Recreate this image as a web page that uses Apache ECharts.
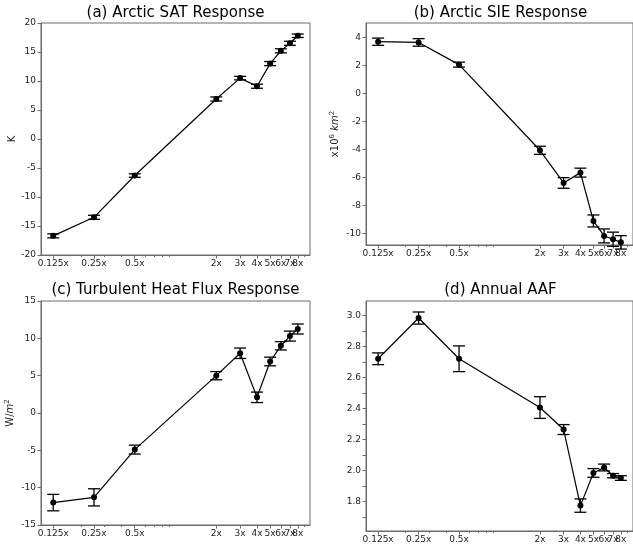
<!DOCTYPE html>
<html>
<head>
<meta charset="utf-8">
<script src="https://cdn.jsdelivr.net/npm/echarts@6/dist/echarts.min.js"></script>
<style>
html,body{margin:0;padding:0;background:#fff;}
#chart{width:633px;height:546px;}
</style>
</head>
<body>
<div id="chart"></div>
<script>
// ---- data ----
const multipliers = [0.125, 0.25, 0.5, 2, 3, 4, 5, 6, 7, 8];
const xTickValues = [0.125, 0.25, 0.5, 2, 3, 4, 5, 6, 7, 8];
const xLabelsMain = [0.125, 0.25, 0.5, 2, 3, 4, 5, 6, 8];
const xLabelsExtra = [7];
const xMinorTicks = [0.2, 0.3, 0.4, 0.6, 0.7, 0.8, 0.9, 9];

const satMean = [-16.7, -13.5, -6.3, 6.9, 10.5, 9.1, 13.0, 15.2, 16.5, 17.8];
const satErr  = [0.35, 0.35, 0.3, 0.35, 0.3, 0.35, 0.35, 0.35, 0.35, 0.3];

const sieMean = [3.71, 3.66, 2.07, -4.06, -6.40, -5.66, -9.12, -10.19, -10.43, -10.65];
const sieErr  = [0.26, 0.27, 0.18, 0.29, 0.38, 0.32, 0.43, 0.50, 0.51, 0.48];

const thfMean = [-12.0, -11.3, -4.9, 5.0, 8.0, 2.1, 6.9, 9.0, 10.3, 11.25];
const thfErr  = [1.1, 1.15, 0.6, 0.55, 0.7, 0.7, 0.58, 0.56, 0.67, 0.67];

const aafMean = [2.722, 2.985, 2.722, 2.407, 2.265, 1.774, 1.985, 2.020, 1.967, 1.952];
const aafErr  = [0.038, 0.039, 0.083, 0.07, 0.032, 0.043, 0.028, 0.022, 0.014, 0.015];

const sieYTicks = [-10, -8, -6, -4, -2, 0, 2, 4];
const aafYLabels = [1.8, 2.0, 2.2, 2.4, 2.6, 2.8, 3.0];
const aafYTicks = [1.7, 1.8, 1.9, 2.0, 2.1, 2.2, 2.3, 2.4, 2.5, 2.6, 2.7, 2.8, 2.9, 3.0];

const titles = ['(a) Arctic SAT Response', '(b) Arctic SIE Response', '(c) Turbulent Heat Flux Response', '(d) Annual AAF'];

// ---- layout ----
const FONT = 'DejaVu Sans';
const SPINE = '#6b6b6b';
const TXT = '#222';
const xMin = 0.125 * Math.pow(2, -0.3);
const xMax = 8 * Math.pow(2, 0.3);

const grids = [
  {left: 41, top: 23, width: 269, height: 232},
  {left: 366, top: 23, width: 269, height: 222},
  {left: 41, top: 301, width: 269, height: 224},
  {left: 366, top: 301, width: 269, height: 230}
];

const chart = echarts.init(document.getElementById('chart'), null, {renderer: 'canvas'});

const option = {
  backgroundColor: '#fff',
  animation: false,
  title: titles.map((t, i) => ({
    text: t,
    left: grids[i].left + grids[i].width / 2,
    top: i < 2 ? 6 : 283,
    textAlign: 'center',
    padding: 0,
    textStyle: {fontFamily: FONT, fontSize: 15, fontWeight: 'normal', color: '#000'}
  })),
  grid: grids.map(g => Object.assign({show: true, borderColor: SPINE, borderWidth: 1, backgroundColor: 'transparent', containLabel: false}, g)),
  xAxis: [],
  yAxis: [],
  series: []
};

const xLabelStyle = {margin: 4, fontFamily: FONT, fontSize: 9, color: TXT, hideOverlap: false, formatter: v => v + 'x'};

for (let i = 0; i < 4; i++) {
  option.xAxis.push({
    type: 'log', logBase: 2, gridIndex: i, min: xMin, max: xMax, position: 'bottom',
    axisLine: {show: true, onZero: false, lineStyle: {color: SPINE, width: 1}},
    axisTick: {show: true, length: 3.5, lineStyle: {color: SPINE}, customValues: xTickValues},
    axisLabel: Object.assign({show: true, customValues: xLabelsMain}, xLabelStyle),
    splitLine: {show: false}, minorTick: {show: false}, minorSplitLine: {show: false}
  });
}
for (let i = 0; i < 4; i++) {
  option.xAxis.push({
    type: 'log', logBase: 2, gridIndex: i, min: xMin, max: xMax, position: 'bottom',
    axisLine: {show: false, onZero: false},
    axisTick: {show: true, length: 2, lineStyle: {color: SPINE}, customValues: xMinorTicks},
    axisLabel: Object.assign({show: true, customValues: xLabelsExtra}, xLabelStyle),
    splitLine: {show: false}
  });
}

const yBase = (i) => ({
  type: 'value', gridIndex: i, position: 'left',
  axisLine: {show: true, onZero: false, lineStyle: {color: SPINE, width: 1}},
  axisTick: {show: true, length: 3.5, lineStyle: {color: SPINE}},
  axisLabel: {show: true, margin: 5, fontFamily: FONT, fontSize: 9, color: TXT},
  splitLine: {show: false},
  nameLocation: 'middle', nameRotate: 90,
  nameTextStyle: {fontFamily: FONT, fontSize: 10, color: TXT}
});

option.yAxis.push(Object.assign(yBase(0), {min: -20, max: 20, interval: 5, name: 'K', nameGap: 24}));
const yb = yBase(1);
yb.min = -10.84; yb.max = 5.05;
yb.axisTick.customValues = sieYTicks;
yb.axisLabel.customValues = sieYTicks;
yb.name = '{n|x10}{s|6}{n| }{i|km}{s|2}';
yb.nameGap = 24;
yb.nameTextStyle.rich = {
  n: {fontFamily: FONT, fontSize: 10, color: TXT},
  i: {fontFamily: FONT, fontSize: 10, fontStyle: 'italic', color: TXT},
  s: {fontFamily: FONT, fontSize: 7, color: TXT, padding: [0, 0, 6, 0]}
};
option.yAxis.push(yb);
const yc = yBase(2);
yc.min = -15; yc.max = 15; yc.interval = 5;
yc.name = '{n|W/}{i|m}{s|2}';
yc.nameGap = 24;
yc.nameTextStyle.rich = yb.nameTextStyle.rich;
option.yAxis.push(yc);
const yd = yBase(3);
yd.min = 1.61; yd.max = 3.095;
yd.axisTick.customValues = aafYTicks;
yd.axisLabel.customValues = aafYLabels;
yd.axisLabel.formatter = v => v.toFixed(1);
option.yAxis.push(yd);

const means = [satMean, sieMean, thfMean, aafMean];
const errs = [satErr, sieErr, thfErr, aafErr];

function errorRender(params, api) {
  const x = api.value(0);
  const lo = api.coord([x, api.value(1)]);
  const hi = api.coord([x, api.value(2)]);
  const cap = 6;
  const style = {stroke: '#000', lineWidth: 1.3, fill: null};
  return {
    type: 'group',
    children: [
      {type: 'line', shape: {x1: lo[0], y1: lo[1], x2: hi[0], y2: hi[1]}, style: style},
      {type: 'line', shape: {x1: lo[0] - cap, y1: lo[1], x2: lo[0] + cap, y2: lo[1]}, style: style},
      {type: 'line', shape: {x1: hi[0] - cap, y1: hi[1], x2: hi[0] + cap, y2: hi[1]}, style: style}
    ]
  };
}

for (let i = 0; i < 4; i++) {
  option.series.push({
    type: 'custom', xAxisIndex: i, yAxisIndex: i,
    renderItem: errorRender,
    encode: {x: 0, y: [1, 2]},
    data: multipliers.map((m, k) => [m, means[i][k] - errs[i][k], means[i][k] + errs[i][k]]),
    z: 3, silent: true
  });
  option.series.push({
    type: 'line', xAxisIndex: i, yAxisIndex: i,
    data: multipliers.map((m, k) => [m, means[i][k]]),
    symbol: 'circle', symbolSize: 6, showSymbol: true,
    itemStyle: {color: '#000'},
    lineStyle: {color: '#000', width: 1.2},
    z: 4, silent: true
  });
}

chart.setOption(option);
</script>
</body>
</html>
